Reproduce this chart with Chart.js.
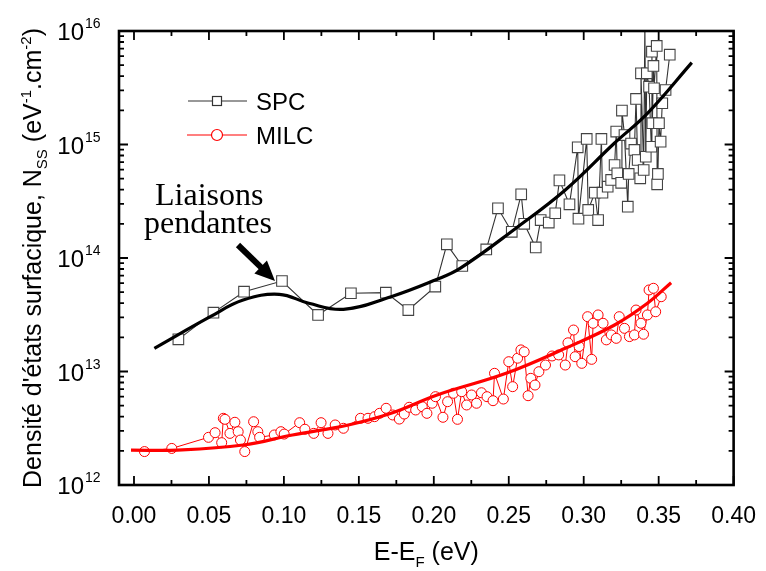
<!DOCTYPE html>
<html>
<head>
<meta charset="utf-8">
<script src="https://cdn.jsdelivr.net/npm/chart.js@4.4.1/dist/chart.umd.min.js"></script>
<style>
  body { margin: 0; background: #fff; }
  #wrap { width: 766px; height: 571px; }
</style>
</head>
<body>
<div id="wrap"><canvas id="nss"></canvas></div>
<script>
  // ---- data ----
  const spcE = [0.0296, 0.053, 0.0734, 0.0987, 0.1228, 0.1447, 0.168, 0.183, 0.201, 0.2087, 0.219,
    0.235, 0.2428, 0.252, 0.2583, 0.2603, 0.268, 0.2713, 0.2767, 0.281, 0.2838, 0.2905, 0.296, 0.2965,
    0.302, 0.303, 0.3074, 0.3096, 0.3118, 0.3125, 0.316, 0.3183, 0.3206, 0.3217, 0.3224, 0.325, 0.3255,
    0.3272, 0.3294, 0.33, 0.3316, 0.3338, 0.3349, 0.336, 0.3377, 0.3382, 0.34, 0.3408, 0.3414, 0.3421,
    0.3436, 0.3451, 0.3455, 0.3458, 0.3465, 0.3469, 0.3487, 0.349, 0.3495, 0.3502, 0.3513, 0.3524,
    0.3546, 0.3574];
  const spcN = [1.92e13, 3.3e13, 5.05e13, 6.27e13, 3.15e13, 4.89e13, 4.95e13, 3.48e13, 5.6e13, 1.32e14, 8.5e13,
    1.19e14, 2.74e14, 1.7e14, 3.64e14, 2.0e14, 1.24e14, 2.16e14, 2.05e14, 2.48e14, 4.83e14, 2.97e14, 9.45e14, 2.22e14,
    1.12e15, 2.65e14, 3.76e14, 2.16e14, 1.12e15, 3.76e14, 4.25e14, 4.87e14, 6.6e14, 1.3e15, 5.57e14, 4.6e14, 1.99e15,
    1.21e15, 2.83e14, 5.5e14, 1.02e15, 8.95e14, 2.52e15, 7.3e14, 5.04e14, 4.24e15, 5.96e14, 1.2e16, 7.8e14, 4.24e15,
    3.23e15, 9.55e14, 6.57e15, 1.54e15, 4.92e15, 3.13e15, 7.38e15, 4.46e14, 5.5e14, 1.54e15, 1.06e15, 2.31e15,
    3.02e15, 6.18e15];

  const milcE = [0.007, 0.0252, 0.0497, 0.0541, 0.0585, 0.0596, 0.0607, 0.064, 0.0673, 0.0695, 0.071, 0.0739,
    0.0798, 0.0826, 0.0838, 0.0936, 0.098, 0.1002, 0.1105, 0.114, 0.1199, 0.1248, 0.1294, 0.1342, 0.1397,
    0.1511, 0.1561, 0.1605, 0.1638, 0.1682, 0.1726, 0.177, 0.1803, 0.1836, 0.1879, 0.1923, 0.1954, 0.1989,
    0.2011, 0.2061, 0.2092, 0.2131, 0.2158, 0.2186, 0.2219, 0.2252, 0.2285, 0.2318, 0.2355, 0.2395, 0.2405,
    0.2464, 0.25, 0.2526, 0.2559, 0.2581, 0.2603, 0.2629, 0.2647, 0.2675, 0.2701, 0.2745, 0.2789, 0.2833,
    0.2877, 0.2895, 0.2932, 0.2943, 0.2969, 0.2987, 0.3026, 0.3053, 0.3063, 0.3096, 0.3129, 0.3151, 0.3184,
    0.3217, 0.3237, 0.3272, 0.3305, 0.3338, 0.3349, 0.3382, 0.3399, 0.3425, 0.3436, 0.3465, 0.348, 0.3517];
  const milcN = [1.97e12, 2.1e12, 2.63e12, 2.89e12, 2.36e12, 3.87e12, 3.79e12, 2.85e12, 3.57e12, 2.95e12, 2.49e12, 1.97e12,
    3.61e12, 2.95e12, 2.63e12, 2.76e12, 2.95e12, 2.81e12, 3.54e12, 3.1e12, 2.85e12, 3.54e12, 2.85e12, 3.38e12, 3.16e12,
    3.87e12, 3.87e12, 4.0e12, 4.28e12, 4.74e12, 4.14e12, 3.81e12, 4.22e12, 4.84e12, 4.58e12, 4.9e12, 4.28e12, 5.25e12,
    6.0e12, 3.95e12, 5.42e12, 6.43e12, 3.79e12, 6.64e12, 5.07e12, 6.21e12, 5.25e12, 6.5e12, 6.0e12, 5.53e12, 9.64e12,
    5.72e12, 1.22e13, 7.35e12, 1.31e13, 1.55e13, 1.49e13, 6.12e12, 8.71e12, 7.6e12, 9.96e12, 1.14e13, 1.37e13, 1.4e13,
    1.14e13, 1.79e13, 2.32e13, 1.35e13, 1.66e13, 1.18e13, 3.04e13, 1.28e13, 2.66e13, 3.15e13, 2.66e13, 1.9e13, 2.1e13,
    1.96e13, 3.04e13, 2.4e13, 2.03e13, 2.1e13, 3.48e13, 2.66e13, 2.13e13, 3.15e13, 5.23e13, 5.41e13, 3.36e13, 4.56e13];

  // smooth guide curves
  const spcFitE = [0.0136, 0.0509, 0.0728, 0.0969, 0.1166, 0.1397, 0.1715, 0.201, 0.2175, 0.2548, 0.2877, 0.3206, 0.3425, 0.3721];
  const spcFitN = [1.6e13, 3.04e13, 4.26e13, 4.79e13, 3.99e13, 3.53e13, 4.56e13, 6.4e13, 8.1e13, 1.83e14, 3.97e14, 1.03e15, 1.88e15, 5.26e15];
  const milcFitE = [-0.002, 0.029, 0.0728, 0.1057, 0.143, 0.1715, 0.2022, 0.2482, 0.2877, 0.3206, 0.3425, 0.3583];
  const milcFitN = [2.03e12, 2.03e12, 2.25e12, 2.76e12, 3.38e12, 4.28e12, 6.21e12, 9.64e12, 1.6e13, 2.57e13, 3.99e13, 6.06e13];

  const xTicks = [0, 0.05, 0.10, 0.15, 0.20, 0.25, 0.30, 0.35, 0.40];
  const yTicks = [1e12, 1e13, 1e14, 1e15, 1e16];

  const SANS = '"Liberation Sans", Arial, sans-serif';
  const SERIF = '"Liberation Serif", "Times New Roman", serif';
  const zip = (xs, ys) => xs.map((x, i) => ({ x, y: ys[i] }));

  // draws the Origin-style frame, inward ticks, labels, legend and annotation
  const decor = {
    id: 'decor',
    afterDraw(chart) {
      const { ctx, chartArea: a, scales: { x, y } } = chart;
      ctx.save();
      ctx.strokeStyle = '#000';
      ctx.fillStyle = '#000';

      // ticks
      ctx.lineWidth = 1.8;
      ctx.beginPath();
      const xt = (v, len) => {
        const px = x.getPixelForValue(v);
        ctx.moveTo(px, a.bottom); ctx.lineTo(px, a.bottom - len);
        ctx.moveTo(px, a.top); ctx.lineTo(px, a.top + len);
      };
      const yt = (v, len) => {
        const py = y.getPixelForValue(v);
        ctx.moveTo(a.left, py); ctx.lineTo(a.left + len, py);
        ctx.moveTo(a.right, py); ctx.lineTo(a.right - len, py);
      };
      xTicks.forEach(v => xt(v, 9));
      for (let i = 0; i < xTicks.length - 1; i++) xt((xTicks[i] + xTicks[i + 1]) / 2, 5);
      yTicks.forEach(v => yt(v, 9));
      for (let i = 0; i < yTicks.length - 1; i++) {
        for (let m = 2; m <= 9; m++) yt(yTicks[i] * m, 5);
      }
      ctx.stroke();

      ctx.lineWidth = 2.6;
      ctx.strokeRect(a.left, a.top, a.right - a.left, a.bottom - a.top);

      // y tick labels 10^n
      yTicks.forEach(v => {
        const py = y.getPixelForValue(v);
        ctx.font = '24px ' + SANS;
        ctx.textAlign = 'right';
        ctx.textBaseline = 'alphabetic';
        ctx.fillText('10', 84, py + 9);
        ctx.font = '14px ' + SANS;
        ctx.textAlign = 'left';
        ctx.fillText(String(Math.round(Math.log10(v))), 85, py - 3);
      });

      // rich text helper: parts = [text, size, dy]
      const runs = (parts, x0, y0) => {
        let cx = x0;
        parts.forEach(([t, s, dy]) => {
          ctx.font = s + 'px ' + SANS;
          ctx.fillText(t, cx, y0 + dy);
          cx += ctx.measureText(t).width;
        });
        return cx - x0;
      };
      const width = parts => parts.reduce((w, [t, s]) => { ctx.font = s + 'px ' + SANS; return w + ctx.measureText(t).width; }, 0);

      // x title
      ctx.textAlign = 'left';
      const xTitle = [['E-E', 25, 0], ['F', 15, 7], [' (eV)', 25, 0]];
      runs(xTitle, (a.left + a.right) / 2 - width(xTitle) / 2, 560);

      // y title
      const yTitle = [['Densité d\'états surfacique, N', 25, 0], ['SS', 15, 6], [' (eV', 25, 0], ['-1', 15, -10],
        ['.cm', 25, 0], ['-2', 15, -10], [')', 25, 0]];
      ctx.save();
      ctx.translate(41, (a.top + a.bottom) / 2);
      ctx.rotate(-Math.PI / 2);
      runs(yTitle, -width(yTitle) / 2, 0);
      ctx.restore();

      // legend
      ctx.lineWidth = 1.2;
      ctx.strokeStyle = '#333';
      ctx.beginPath(); ctx.moveTo(188, 101); ctx.lineTo(247, 101); ctx.stroke();
      ctx.fillStyle = '#fff';
      ctx.fillRect(212.5, 96.5, 9, 9); ctx.strokeRect(212.5, 96.5, 9, 9);
      ctx.strokeStyle = '#f00';
      ctx.beginPath(); ctx.moveTo(187, 135); ctx.lineTo(247, 135); ctx.stroke();
      ctx.beginPath(); ctx.arc(217, 135, 5.5, 0, Math.PI * 2); ctx.fill(); ctx.stroke();
      ctx.fillStyle = '#000';
      ctx.font = '24px ' + SANS;
      ctx.fillText('SPC', 256, 110);
      ctx.fillText('MILC', 256, 144);

      // annotation + arrow
      ctx.font = '32px ' + SERIF;
      ctx.fillText('Liaisons', 155, 205);
      ctx.fillText('pendantes', 144, 233);
      const sx = 238, sy = 245, tx = 275, ty = 281;
      const len = Math.hypot(tx - sx, ty - sy), ux = (tx - sx) / len, uy = (ty - sy) / len;
      const bx = tx - ux * 20, by = ty - uy * 20;
      ctx.lineWidth = 6;
      ctx.strokeStyle = '#000';
      ctx.beginPath(); ctx.moveTo(sx, sy); ctx.lineTo(bx + ux * 2, by + uy * 2); ctx.stroke();
      ctx.beginPath();
      ctx.moveTo(tx, ty);
      ctx.lineTo(bx - uy * 9, by + ux * 9);
      ctx.lineTo(bx + uy * 9, by - ux * 9);
      ctx.closePath();
      ctx.fill();

      ctx.restore();
    }
  };

  new Chart(document.getElementById('nss'), {
    type: 'scatter',
    data: {
      datasets: [
        { data: zip(spcFitE, spcFitN), showLine: true, borderColor: '#000', borderWidth: 3.2, pointRadius: 0, tension: 0.4, order: 0 },
        { data: zip(milcFitE, milcFitN), showLine: true, borderColor: '#f00', borderWidth: 3.2, pointRadius: 0, tension: 0.4, order: 0 },
        { data: zip(spcE, spcN), showLine: true, borderColor: '#333', borderWidth: 1.1, pointStyle: 'rect',
          pointRadius: 7.5, pointBorderColor: '#444', pointBackgroundColor: '#fff', pointBorderWidth: 1.1, order: 1 },
        { data: zip(milcE, milcN), showLine: true, borderColor: '#f00', borderWidth: 1, pointStyle: 'circle',
          pointRadius: 5, pointBorderColor: '#f00', pointBackgroundColor: '#fff', pointBorderWidth: 1, order: 1 }
      ]
    },
    options: {
      responsive: true,
      maintainAspectRatio: false,
      animation: false,
      layout: { padding: { top: 31, right: 28, left: 0, bottom: 0 } },
      plugins: { legend: { display: false }, tooltip: { enabled: false } },
      scales: {
        x: {
          type: 'linear', min: -0.01, max: 0.40,
          afterBuildTicks: s => { s.ticks = xTicks.map(v => ({ value: v })); },
          afterFit: s => { s.height = 86; },
          grid: { display: false }, border: { display: false },
          ticks: { color: '#000', padding: 10, maxRotation: 0, autoSkip: false,
            font: { family: SANS, size: 23 }, callback: v => v.toFixed(2) }
        },
        y: {
          type: 'logarithmic', min: 1e12, max: 1e16,
          afterBuildTicks: s => { s.ticks = yTicks.map(v => ({ value: v })); },
          afterFit: s => { s.width = 119; },
          grid: { display: false }, border: { display: false },
          ticks: { display: false }
        }
      }
    },
    plugins: [decor]
  });
</script>
</body>
</html>
